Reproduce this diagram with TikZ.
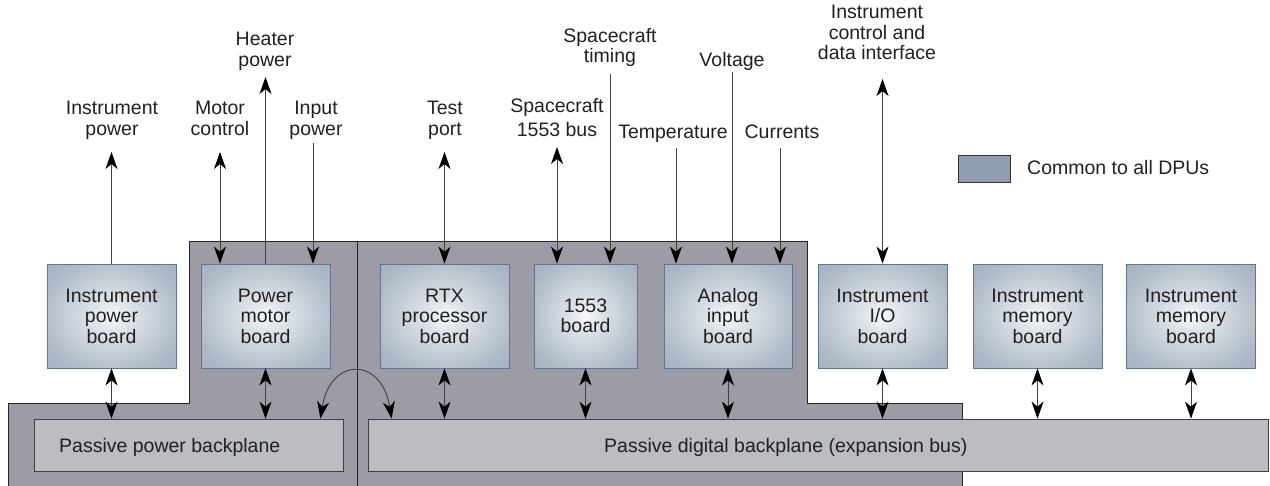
\documentclass[tikz,border=0pt]{standalone}
\usepackage{fontspec}
\setmainfont{Liberation Sans}
\usetikzlibrary{arrows.meta}
\definecolor{bgdark}{HTML}{9C9BA6}
\definecolor{planefill}{HTML}{BCBDC1}
\definecolor{bcA}{HTML}{F8F9FA}
\definecolor{bcB}{HTML}{DDE2E8}
\definecolor{bcC}{HTML}{AEBAC7}
\definecolor{bcD}{HTML}{8F9FB1}
\definecolor{bcE}{HTML}{8292A5}
\definecolor{bedge}{HTML}{64748A}
\definecolor{legendc}{HTML}{8E9EAE}
\definecolor{ink}{HTML}{231F20}
\pgfdeclareradialshading{boardshade}{\pgfpoint{0bp}{0bp}}{color(0bp)=(bcA); color(8bp)=(bcB); color(28bp)=(bcC); color(50bp)=(bcD); color(71bp)=(bcE)}
\begin{document}
\begin{tikzpicture}[x=1pt,y=-1pt,
  font=\fontsize{19.5}{20.5}\selectfont,
  board/.style={draw=bedge, line width=0.8pt, shade, shading=boardshade, minimum width=129pt, minimum height=104pt, inner sep=0pt, align=center, text=ink},
  bplane/.style={draw=black!75, line width=0.8pt, fill=planefill, minimum height=52pt, inner sep=0pt},
  lbl/.style={anchor=north, align=center, inner sep=0pt, text=ink},
  conn/.style={draw=black!75, line width=0.9pt, >={Stealth[length=17pt,width=12pt,inset=5pt,black]}}]
\useasboundingbox (0,0) rectangle (1270,485);
% background enclosure
\path[fill=bgdark] (8,488) -- (8,403) -- (189,403) -- (189,241) -- (807,241) -- (807,403) -- (962,403) -- (962,488) -- cycle;
\draw[black!85, line width=0.8pt] (8,488) -- (8,403) -- (189,403) -- (189,241) -- (807,241) -- (807,403) -- (962,403) -- (962,488);
\draw[black!85, line width=0.8pt] (357,241) -- (357,488);
% backplanes
\node[bplane, minimum width=309pt] (ppb) at (188.5,445) {};
\node[bplane, minimum width=900pt] (pdb) at (818,445) {};
\node[anchor=west, inner sep=0pt, text=ink] (ppbt) at (59,447) {Passive power backplane};
\node[anchor=west, inner sep=0pt, text=ink] (pdbt) at (604,447) {Passive digital backplane (expansion bus)};
% boards
\node[board] (ipb) at (111.5,316) {Instrument\\power\\board};
\node[board] (pmb) at (265.5,316) {Power\\motor\\board};
\node[board] (rtx) at (444.5,316) {RTX\\processor\\board};
\node[board, minimum width=103pt] (bus) at (585.5,316) {1553\\board};
\node[board, minimum width=128pt] (aib) at (728,316) {Analog\\input\\board};
\node[board] (iob) at (882.5,316) {Instrument\\I/O\\board};
\node[board] (mem1) at (1037.5,316) {Instrument\\memory\\board};
\node[board] (mem2) at (1191,316) {Instrument\\memory\\board};
% legend
\node[draw=black!80, line width=0.8pt, fill=legendc, minimum width=52pt, minimum height=27pt, inner sep=0pt] (leg) at (984,168.5) {};
\node[anchor=west, inner sep=0pt, text=ink] (legt) at (1027,168) {Common to all DPUs};
% top labels
\node[lbl] (lip) at (112,101) {Instrument\\power};
\node[lbl] (lmc) at (220,101) {Motor\\control};
\node[lbl] (lhp) at (265,32) {Heater\\power};
\node[lbl] (linp) at (316,101) {Input\\power};
\node[lbl] (ltp) at (445,101) {Test\\port};
\node[lbl] (lsb) at (557,98) {Spacecraft\\[4pt]1553 bus};
\node[lbl] (lst) at (610,28) {Spacecraft\\timing};
\node[lbl] (ltemp) at (673,125) {Temperature};
\node[lbl] (lvolt) at (732,52) {Voltage};
\node[lbl] (lcur) at (782,125) {Currents};
\node[lbl] (lic) at (877,5) {Instrument\\control and\\data interface};
% top connector ends
\coordinate (cip) at (111,152);
\coordinate (cmc) at (220,152);
\coordinate (chp) at (265,77);
\coordinate (cinp) at (313,143);
\coordinate (ctp) at (445,152);
\coordinate (csb) at (557,147);
\coordinate (cst) at (610,74);
\coordinate (ctemp) at (676,148);
\coordinate (cvolt) at (732,72);
\coordinate (ccur) at (780,148);
\coordinate (cic) at (882,79);
% top connectors
\draw[conn,->] (ipb.north) -- (ipb.north |- cip);
\draw[conn,<->] (cmc) -- (cmc |- pmb.north);
\draw[conn,->] (pmb.north) -- (pmb.north |- chp);
\draw[conn,->] (cinp) -- (cinp |- pmb.north);
\draw[conn,<->] (rtx.north |- ctp) -- (rtx.north);
\draw[conn,<->] (csb) -- (csb |- bus.north);
\draw[conn,->] (cst) -- (cst |- bus.north);
\draw[conn,->] (ctemp) -- (ctemp |- aib.north);
\draw[conn,->] (cvolt) -- (cvolt |- aib.north);
\draw[conn,->] (ccur) -- (ccur |- aib.north);
\draw[conn,<->] (iob.north |- cic) -- (iob.north);
% board to backplane connectors
\draw[conn,<->] (ipb.south) -- (ipb.south |- ppb.north);
\draw[conn,<->] (pmb.south) -- (pmb.south |- ppb.north);
\draw[conn,<->] (rtx.south) -- (rtx.south |- pdb.north);
\draw[conn,<->] (bus.south) -- (bus.south |- pdb.north);
\draw[conn,<->] (aib.south) -- (aib.south |- pdb.north);
\draw[conn,<->] (iob.south) -- (iob.south |- pdb.north);
\draw[conn,<->] (mem1.south) -- (mem1.south |- pdb.north);
\draw[conn,<->] (mem2.south) -- (mem2.south |- pdb.north);
% curved link between backplanes
\draw[conn,<->] ([xshift=-23pt]ppb.north east) .. controls +(10,-62) and +(-10,-62) .. ([xshift=24pt]pdb.north west);
\end{tikzpicture}
\end{document}
